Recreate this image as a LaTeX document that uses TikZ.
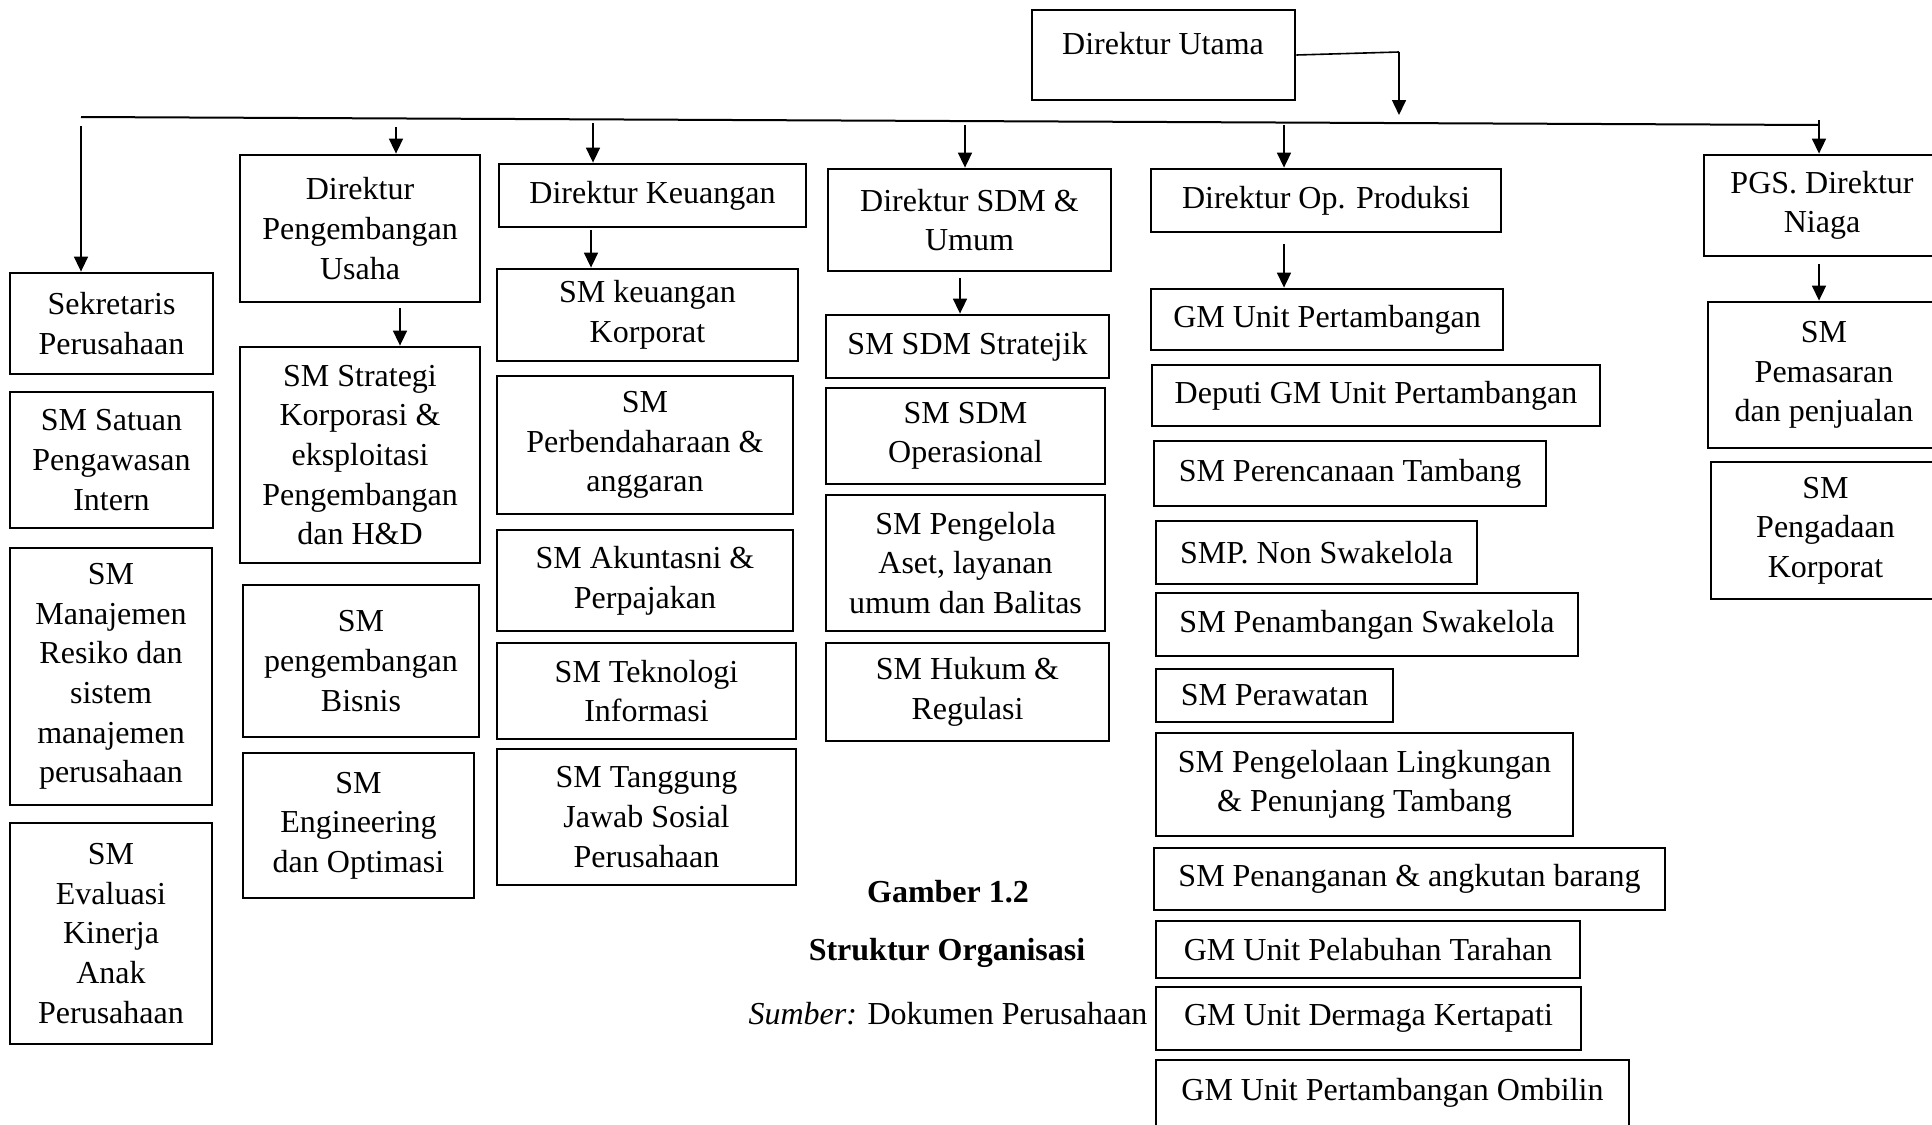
\documentclass[tikz,border=0pt]{standalone}
\usepackage{fontspec}
\setmainfont{Liberation Serif}
\usetikzlibrary{arrows.meta}
\tikzset{
  box/.style={draw, line width=1.4pt, inner sep=0pt, align=center, font=\fontsize{16}{19.8}\selectfont},
  txt/.style={inner sep=0pt, align=center, font=\fontsize{16}{19.8}\selectfont},
  arr/.style={-{Triangle[length=7.5pt,width=7pt]}, line width=0.8pt},
  conn/.style={line width=0.8pt},
}
\newcommand\orgbox[6]{\node[box, anchor=center, minimum width={(#4-#2)*0.5pt}, minimum height={(#5-#3)*0.5pt}] (#1) at ({(#2+#4)/2},{(#3+#5)/2}) {#6};}
\begin{document}
\begin{tikzpicture}[x=0.5pt,y=-0.5pt]
\useasboundingbox (0,0) rectangle (1932,1124);
\clip (0,0) rectangle (1932,1124);
\fill[white] (0,0) rectangle (1932,1124);

% top
\orgbox{du}{1032}{10}{1295}{100}{}
\node[txt] (dut) at (1163,44) {Direktur Utama};

% column 1
\orgbox{sek}{10}{273}{213}{374}{Sekretaris\\Perusahaan}
\orgbox{sat}{10}{392}{213}{528}{SM Satuan\\Pengawasan\\Intern}
\orgbox{man}{10}{548}{212}{805}{SM\\Manajemen\\Resiko dan\\sistem\\manajemen\\perusahaan}
\orgbox{eva}{10}{823}{212}{1044}{SM\\Evaluasi\\Kinerja\\Anak\\Perusahaan}

% column 2
\orgbox{dpu}{240}{155}{480}{302}{Direktur\\Pengembangan\\Usaha}
\orgbox{sms}{240}{347}{480}{563}{SM Strategi\\Korporasi \&\\eksploitasi\\Pengembangan\\dan H\&D}
\orgbox{spb}{243}{585}{479}{737}{SM\\pengembangan\\Bisnis}
\orgbox{sme}{243}{753}{474}{898}{SM\\Engineering\\dan Optimasi}

% column 3
\orgbox{dk}{499}{164}{806}{227}{Direktur Keuangan}
\orgbox{skk}{497}{269}{798}{361}{SM keuangan\\Korporat}
\orgbox{spa}{497}{376}{793}{514}{SM\\Perbendaharaan \&\\anggaran}
\orgbox{sak}{497}{530}{793}{631}{SM Akuntasni \&\\Perpajakan}
\orgbox{sti}{497}{643}{796}{739}{SM Teknologi\\Informasi}
\orgbox{stj}{497}{749}{796}{885}{SM Tanggung\\Jawab Sosial\\Perusahaan}

% column 4
\orgbox{dsdm}{828}{169}{1111}{271}{Direktur SDM \&\\Umum}
\orgbox{sss}{826}{315}{1109}{378}{SM SDM Stratejik}
\orgbox{sso}{826}{388}{1105}{484}{SM SDM\\Operasional}
\orgbox{spe}{826}{495}{1105}{631}{SM Pengelola\\Aset, layanan\\umum dan Balitas}
\orgbox{shr}{826}{643}{1109}{741}{SM Hukum \&\\Regulasi}

% column 5
\orgbox{dop}{1151}{169}{1501}{232}{Direktur Op. Produksi}
\orgbox{g1}{1151}{289}{1503}{350}{GM Unit Pertambangan}
\orgbox{g2}{1152}{365}{1600}{426}{Deputi GM Unit Pertambangan}
\orgbox{g3}{1154}{441}{1546}{506}{SM Perencanaan Tambang}
\orgbox{g4}{1156}{521}{1477}{584}{SMP. Non Swakelola}
\orgbox{g5}{1156}{593}{1578}{656}{SM Penambangan Swakelola}
\orgbox{g6}{1156}{669}{1393}{722}{SM Perawatan}
\orgbox{g7}{1156}{733}{1573}{836}{SM Pengelolaan Lingkungan\\\& Penunjang Tambang}
\orgbox{g8}{1154}{848}{1665}{910}{SM Penanganan \& angkutan barang}
\orgbox{g9}{1156}{921}{1580}{978}{GM Unit Pelabuhan Tarahan}
\orgbox{g10}{1156}{987}{1581}{1050}{GM Unit Dermaga Kertapati}
\orgbox{g11}{1156}{1060}{1629}{1126}{GM Unit Pertambangan Ombilin}

% column 6
\orgbox{ngs}{1704}{155}{1940}{256}{PGS. Direktur\\Niaga}
\orgbox{spm}{1708}{302}{1940}{448}{SM\\Pemasaran\\dan penjualan}
\orgbox{spg}{1711}{462}{1940}{599}{SM\\Pengadaan\\Korporat}

% captions
\node[txt, font=\fontsize{16}{19.8}\selectfont\bfseries] (cap1) at (948,892) {Gamber 1.2};
\node[txt, font=\fontsize{16}{19.8}\selectfont\bfseries] (cap2) at (947,953) {Struktur Organisasi};
\node[txt] (cap3) at (948,1014) {{\itshape Sumber:} Dokumen Perusahaan};

% connectors from the top
\coordinate (duc) at (1399,52);
\coordinate (hub) at (1399,115);
\draw[conn] (du.east) -- (duc);
\draw[arr] (duc) -- (hub);
\coordinate (hl) at (81,117);
\coordinate (hr) at (1819,125);
\draw[line width=1pt] (hl) -- (hr);

\coordinate (s1) at (81,126);
\coordinate (s2) at (396,127);
\coordinate (s3) at (593,123);
\coordinate (s4) at (965,125);
\coordinate (s5) at (1284,125);
\coordinate (s6) at (1819,120);
\draw[arr] (s1) -- (s1 |- sek.north);
\draw[arr] (s2) -- (s2 |- dpu.north);
\draw[arr] (s3) -- (s3 |- dk.north);
\draw[arr] (s4) -- (s4 |- dsdm.north);
\draw[arr] (s5) -- (s5 |- dop.north);
\draw[arr] (s6) -- (s6 |- ngs.north);

% connectors inside the columns
\draw[arr, shorten <=2.5pt] (dpu.south -| 400,0) -- (sms.north -| 400,0);
\draw[arr, shorten <=1pt] (dk.south -| 591,0) -- (skk.north -| 591,0);
\draw[arr, shorten <=3pt] (dsdm.south -| 960,0) -- (sss.north -| 960,0);
\draw[arr, shorten <=5.5pt] (dop.south -| 1284,0) -- (g1.north -| 1284,0);
\draw[arr, shorten <=3.5pt] (ngs.south -| 1819,0) -- (spm.north -| 1819,0);
\end{tikzpicture}
\end{document}
